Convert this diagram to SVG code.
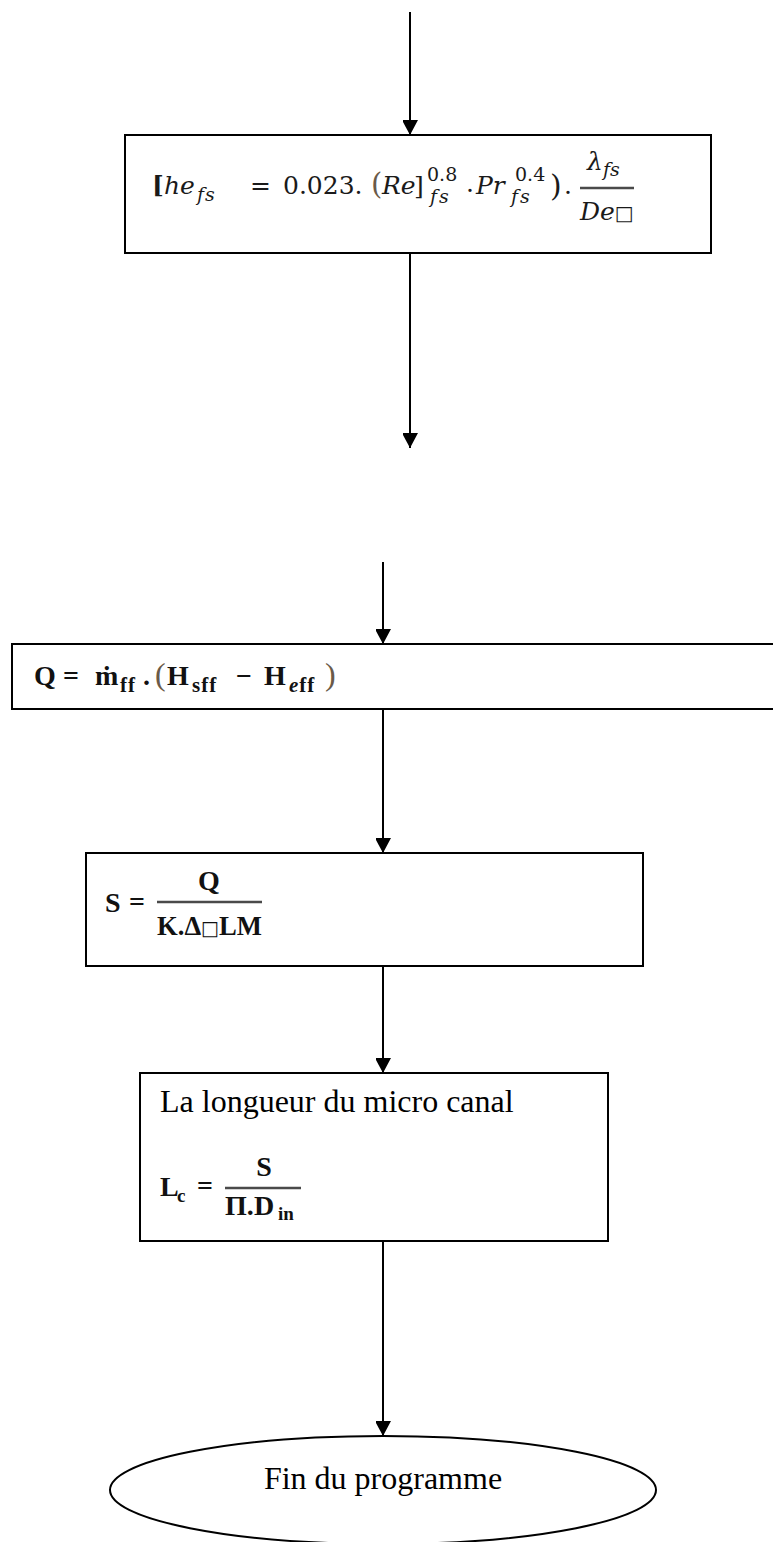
<svg xmlns="http://www.w3.org/2000/svg" width="773" height="1542" viewBox="0 0 773 1542">
  <style>
    .box { fill: #ffffff; stroke: #000000; stroke-width: 2; }
    .edge { fill: none; stroke: #000000; stroke-width: 2; }
    .txt { font-family: "Liberation Serif", "Times New Roman", serif; font-size: 32px; fill: #000000; }
    .math { font-family: "DejaVu Serif", "Liberation Serif", serif; font-size: 25px; fill: #1a1a1a; }
    .mb { font-family: "Liberation Serif", "Times New Roman", serif; font-size: 28px; font-weight: bold; fill: #111111; }
    .it { font-style: italic; }
    .sub { font-size: 19px; }
    .bsub { font-size: 21px; letter-spacing: 1px; }
    .bar { stroke: #4a4a4a; stroke-width: 2.5; }
    .sym { font-family: "DejaVu Sans", sans-serif; }
    .paren { font-weight: normal; fill: #6a5a48; }
  </style>
  <defs>
    <marker id="arrow" markerUnits="userSpaceOnUse" markerWidth="16" markerHeight="15" refX="15" refY="8" orient="auto">
      <path d="M0,0 L15,8 L0,16 Z" fill="#000000"/>
    </marker>
  </defs>

  <!-- connectors -->
  <g id="connectors">
    <line class="edge" x1="410" y1="12" x2="410" y2="135" marker-end="url(#arrow)"/>
    <line class="edge" x1="410" y1="254" x2="410" y2="448" marker-end="url(#arrow)"/>
    <line class="edge" x1="383" y1="562" x2="383" y2="644" marker-end="url(#arrow)"/>
    <line class="edge" x1="383" y1="709" x2="383" y2="853" marker-end="url(#arrow)"/>
    <line class="edge" x1="383" y1="966" x2="383" y2="1073" marker-end="url(#arrow)"/>
    <line class="edge" x1="383" y1="1241" x2="383" y2="1436" marker-end="url(#arrow)"/>
  </g>

  <!-- heat transfer coefficient -->
  <g id="node-hefs">
    <rect class="box" x="125" y="135" width="586" height="118"/>
    <text class="math" y="194">
      <tspan x="152" font-weight="bold">[</tspan><tspan x="164" class="it">he</tspan><tspan x="197" y="201" class="it sub" letter-spacing="1">fs</tspan>
      <tspan x="250" y="194">=</tspan>
      <tspan x="283">0.023.</tspan>
      <tspan x="371" class="paren" font-size="29">(</tspan><tspan x="382" class="it">Re</tspan><tspan x="414">]</tspan>
      <tspan x="427" y="181" class="sub">0.8</tspan><tspan x="430" y="203" class="it sub" letter-spacing="2">fs</tspan>
      <tspan x="466" y="192">.</tspan>
      <tspan x="476" y="194" class="it">Pr</tspan>
      <tspan x="515" y="181" class="sub">0.4</tspan><tspan x="511" y="203" class="it sub" letter-spacing="2">fs</tspan>
      <tspan x="550" y="196" font-size="30">)</tspan>
      <tspan x="564" y="194">.</tspan>
    </text>
    <line class="bar" x1="580" y1="188" x2="634" y2="188"/>
    <text class="math it" y="170"><tspan x="587">λ</tspan><tspan x="603" y="176" class="sub">fs</tspan></text>
    <text class="math it" y="220"><tspan x="580">De</tspan><tspan class="sym" font-style="normal" font-size="20">□</tspan></text>
  </g>

  <!-- heat flow -->
  <g id="node-q">
    <rect class="box" x="12" y="644" width="770" height="65"/>
    <text class="mb" y="685">
      <tspan x="34">Q</tspan>
      <tspan x="63">=</tspan>
      <tspan x="95">ṁ</tspan><tspan x="120" y="692" class="bsub">ff</tspan>
      <tspan x="143" y="685">.</tspan>
      <tspan x="155" class="paren" font-size="32">(</tspan>
      <tspan x="167">H</tspan><tspan x="192" y="692" class="bsub">sff</tspan>
      <tspan x="236" y="685">−</tspan>
      <tspan x="264">H</tspan><tspan x="289" y="692" class="bsub"><tspan class="it">e</tspan>ff</tspan>
      <tspan x="325" y="685" class="paren" font-size="32">)</tspan>
    </text>
  </g>

  <!-- exchange surface -->
  <g id="node-s">
    <rect class="box" x="86" y="853" width="557" height="113"/>
    <text class="mb" x="105" y="912" font-size="30">S</text>
    <text class="mb" x="129" y="911">=</text>
    <line class="bar" x1="157" y1="902" x2="262" y2="902"/>
    <text class="mb" x="209" y="890" text-anchor="middle" font-size="30">Q</text>
    <text class="mb" x="157" y="935" textLength="105" lengthAdjust="spacingAndGlyphs">K.Δ<tspan class="sym" font-weight="normal" font-size="20">□</tspan>LM</text>
  </g>

  <!-- channel length -->
  <g id="node-length">
    <rect class="box" x="140" y="1073" width="468" height="168"/>
    <text class="txt" x="160" y="1112">La longueur du micro canal</text>
    <text class="mb" y="1196"><tspan x="160">L</tspan><tspan x="177" y="1202" class="sub">c</tspan></text>
    <text class="mb" x="197" y="1195">=</text>
    <line class="bar" x1="225" y1="1188" x2="301" y2="1188"/>
    <text class="mb" x="264" y="1176" text-anchor="middle">S</text>
    <text class="mb" y="1215"><tspan x="225">Π.</tspan><tspan x="254">D</tspan><tspan x="278" y="1220" class="sub">in</tspan></text>
  </g>

  <!-- end of program -->
  <g id="node-end">
    <ellipse class="box" cx="383" cy="1490" rx="273" ry="54"/>
    <text class="txt" x="383" y="1489" text-anchor="middle">Fin du programme</text>
  </g>
</svg>
